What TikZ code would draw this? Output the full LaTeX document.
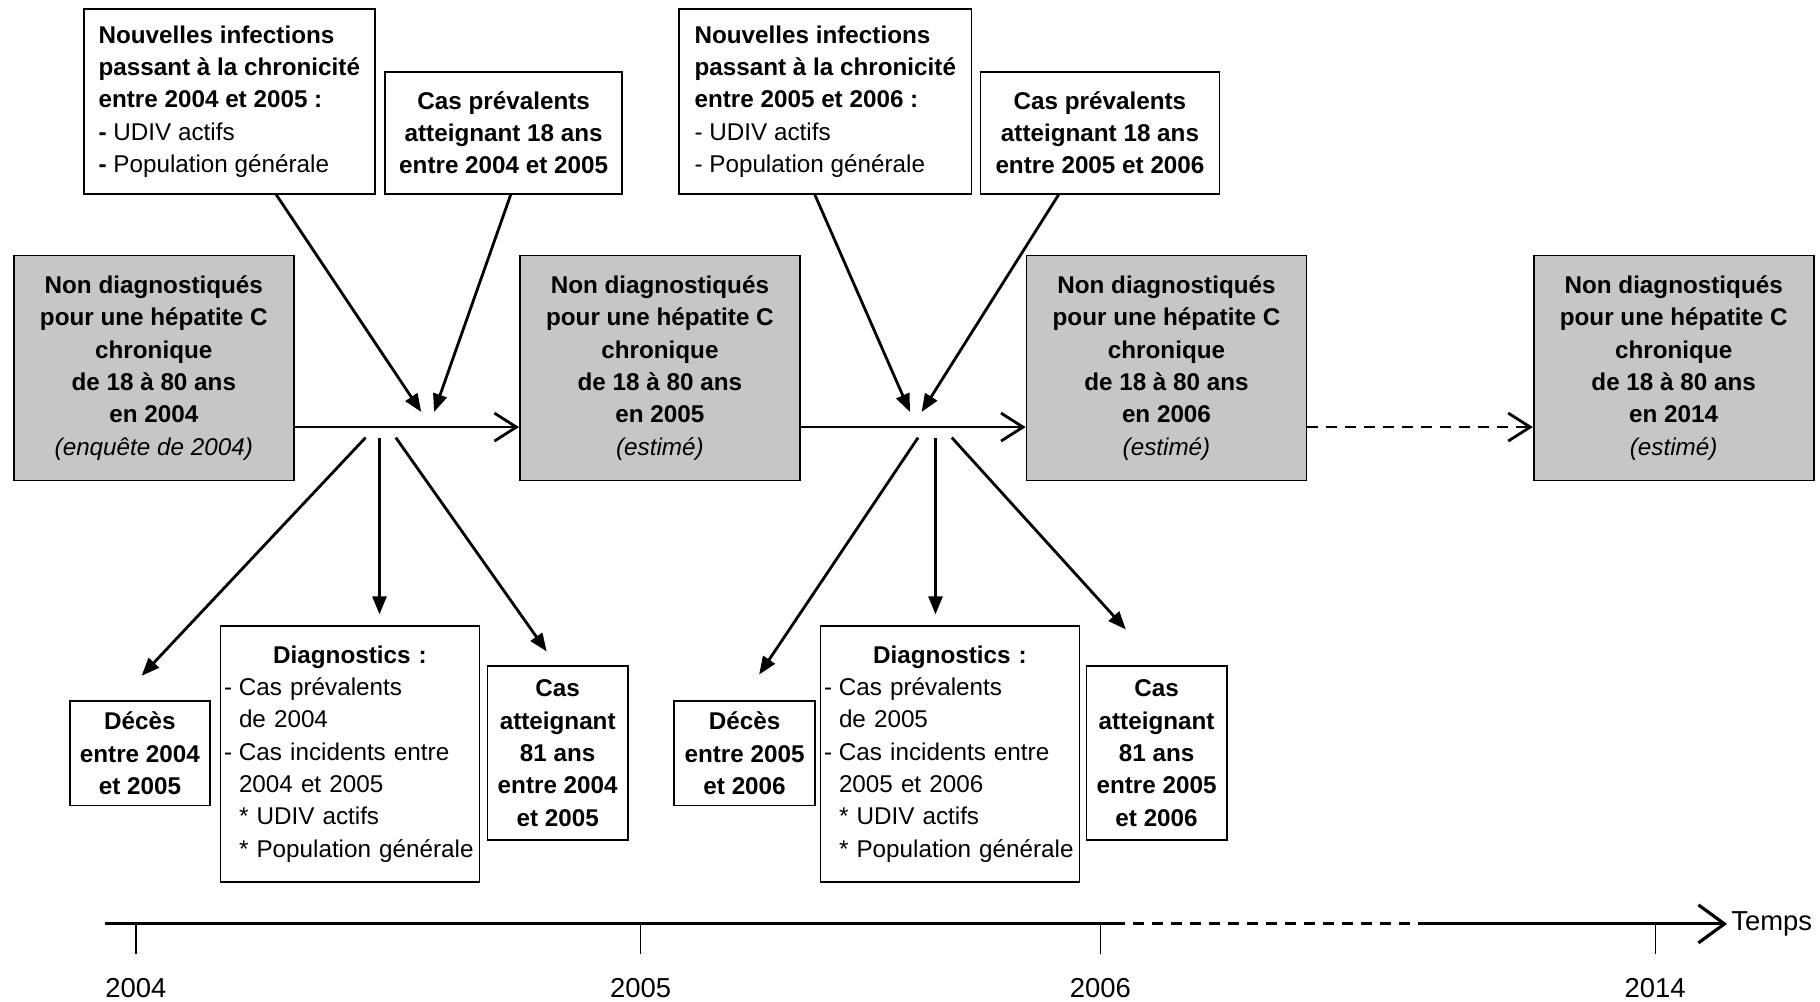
\documentclass[tikz,border=0pt]{standalone}
\usepackage{fontspec}
\setmainfont{Liberation Sans}
\usepackage{tikz}
\usetikzlibrary{arrows.meta}
\definecolor{boxgray}{RGB}{198,198,198}
\tikzset{
        txt/.style = {font=\fontsize{6.9}{9.2}\selectfont},
        box_w/.style = {txt, rectangle, draw=black, line width=0.5pt,
            fill=white, align=center, inner sep=0pt},
        box_b/.style = {box_w, font=\fontsize{6.9}{9.2}\selectfont\bfseries},
        box_g/.style = {box_b, fill=boxgray, minimum width=2.8cm,
            minimum height=2.25cm},
        box_l/.style = {box_w, align=left},
        arr_f/.style = {-{Triangle[length=1.8mm,width=1.4mm]}, line width=0.8pt},
        arr_o/.style = {-{Straight Barb[length=2.2mm,width=2.8mm]}, line width=0.8pt},
        yr/.style = {font=\fontsize{7.8}{9}\selectfont}
    }

\begin{document}
\begin{tikzpicture}
    \useasboundingbox (0,0) rectangle (18.2,10.02);
    % stock boxes
    \node [box_g] (N1) at (1.538,6.34) {Non diagnostiqués\\pour une hépatite C\\chronique\\de 18 à 80 ans\\en 2004\\{\normalfont\itshape (enquête de 2004)}};
    \node [box_g] (N2) at (6.599,6.34) {Non diagnostiqués\\pour une hépatite C\\chronique\\de 18 à 80 ans\\en 2005\\{\normalfont\itshape (estimé)}};
    \node [box_g] (N3) at (11.665,6.34) {Non diagnostiqués\\pour une hépatite C\\chronique\\de 18 à 80 ans\\en 2006\\{\normalfont\itshape (estimé)}};
    \node [box_g] (N4) at (16.737,6.34) {Non diagnostiqués\\pour une hépatite C\\chronique\\de 18 à 80 ans\\en 2014\\{\normalfont\itshape (estimé)}};
    % inflows
    \node [box_l, minimum width=2.913cm, minimum height=1.845cm] (A1) at (2.293,9.005) {\textbf{Nouvelles infections}\\\textbf{passant à la chronicité}\\\textbf{entre 2004 et 2005 :}\\\textbf{-} UDIV actifs\\\textbf{-} Population générale};
    \node [box_b, minimum width=2.367cm, minimum height=1.219cm] (B1) at (5.037,8.691) {Cas prévalents\\atteignant 18 ans\\entre 2004 et 2005};
    \node [box_l, minimum width=2.925cm, minimum height=1.845cm] (A2) at (8.253,9.005) {\textbf{Nouvelles infections}\\\textbf{passant à la chronicité}\\\textbf{entre 2005 et 2006 :}\\- UDIV actifs\\- Population générale};
    \node [box_b, minimum width=2.39cm, minimum height=1.219cm] (B2) at (11.0,8.691) {Cas prévalents\\atteignant 18 ans\\entre 2005 et 2006};
    % outflows
    \node [box_b, minimum width=1.405cm, minimum height=1.044cm] (D1) at (1.399,2.487) {Décès\\entre 2004\\et 2005};
    \node [box_l, text width=2.52cm, minimum width=2.589cm, minimum height=2.565cm] (G1) at (3.5,2.481) {\noindent\makebox[\hsize]{\bfseries Diagnostics :}\\\makebox[1.5mm][l]{-}Cas prévalents\\\hspace*{1.5mm}de 2004\\\makebox[1.5mm][l]{-}Cas incidents entre\\\hspace*{1.5mm}2004 et 2005\\\hspace*{1.5mm}* UDIV actifs\\\hspace*{1.5mm}\mbox{* Population générale}};
    \node [box_b, minimum width=1.404cm, minimum height=1.741cm] (C1) at (5.577,2.487) {Cas\\atteignant\\81 ans\\entre 2004\\et 2005};
    \node [box_b, minimum width=1.405cm, minimum height=1.044cm] (D2) at (7.446,2.487) {Décès\\entre 2005\\et 2006};
    \node [box_l, text width=2.52cm, minimum width=2.589cm, minimum height=2.565cm] (G2) at (9.5,2.481) {\noindent\makebox[\hsize]{\bfseries Diagnostics :}\\\makebox[1.5mm][l]{-}Cas prévalents\\\hspace*{1.5mm}de 2005\\\makebox[1.5mm][l]{-}Cas incidents entre\\\hspace*{1.5mm}2005 et 2006\\\hspace*{1.5mm}* UDIV actifs\\\hspace*{1.5mm}\mbox{* Population générale}};
    \node [box_b, minimum width=1.404cm, minimum height=1.741cm] (C2) at (11.566,2.487) {Cas\\atteignant\\81 ans\\entre 2005\\et 2006};

    % year to year
    \draw [arr_o] ([yshift=-0.591cm]N1.east) -- ([yshift=-0.591cm]N2.west);
    \draw [arr_o] ([yshift=-0.591cm]N2.east) -- ([yshift=-0.591cm]N3.west);
    \draw [arr_o, dash pattern=on 1.1mm off 0.8mm] ([yshift=-0.591cm]N3.east) -- ([yshift=-0.591cm]N4.west);

    % entries
    \coordinate (in1a) at (4.213,5.90);
    \coordinate (in1b) at (4.341,5.90);
    \coordinate (in2a) at (9.10,5.90);
    \coordinate (in2b) at (9.216,5.90);
    \draw [arr_f] ([xshift=0.469cm]A1.south) -- (in1a);
    \draw [arr_f] ([xshift=0.07cm]B1.south) -- (in1b);
    \draw [arr_f] ([xshift=-0.105cm]A2.south) -- (in2a);
    \draw [arr_f] ([xshift=-0.414cm]B2.south) -- (in2b);

    % exits
    \coordinate (out1a) at (3.656,5.644);
    \coordinate (out1b) at (3.795,5.644);
    \coordinate (out1c) at (3.958,5.644);
    \coordinate (out2a) at (9.181,5.644);
    \coordinate (out2b) at (9.355,5.644);
    \coordinate (out2c) at (9.518,5.644);
    \draw [arr_f] (out1a) -- ([xshift=0.017cm,yshift=0.244cm]D1.north);
    \draw [arr_f] (out1b) -- ([xshift=0.295cm,yshift=0.104cm]G1.north);
    \draw [arr_f] (out1c) -- ([xshift=-0.11cm,yshift=0.139cm]C1.north);
    \draw [arr_f] (out2a) -- ([xshift=0.145cm,yshift=0.256cm]D2.north);
    \draw [arr_f] (out2b) -- ([xshift=-0.145cm,yshift=0.104cm]G2.north);
    \draw [arr_f] (out2c) -- ([xshift=-0.307cm,yshift=0.359cm]C2.north);

    % time axis
    \coordinate (t0) at (1.045,0.781);
    \coordinate (t1) at (11.143,0.781);
    \coordinate (t2) at (14.219,0.781);
    \coordinate (t3) at (17.271,0.781);
    \draw [line width=0.9pt] (t0) -- (t1);
    \draw [line width=0.9pt, dash pattern=on 1.1mm off 0.8mm] (t1) -- (t2);
    \draw [line width=0.9pt, -{Straight Barb[length=2.6mm,width=3.8mm]}] (t2) -- (t3);
    \node [yr, anchor=west, inner sep=1pt] (temps) at (t3) {Temps};
    \node [yr] (y2004) at (1.358,0.142) {2004};
    \node [yr] (y2005) at (6.407,0.142) {2005};
    \node [yr] (y2006) at (11.003,0.142) {2006};
    \node [yr] (y2014) at (16.552,0.142) {2014};
    \draw [line width=0.4pt] (y2004 |- t0) -- ++(0,-0.30);
    \draw [line width=0.4pt] (y2005 |- t0) -- ++(0,-0.30);
    \draw [line width=0.4pt] (y2006 |- t0) -- ++(0,-0.30);
    \draw [line width=0.4pt] (y2014 |- t0) -- ++(0,-0.30);
\end{tikzpicture}
\end{document}
